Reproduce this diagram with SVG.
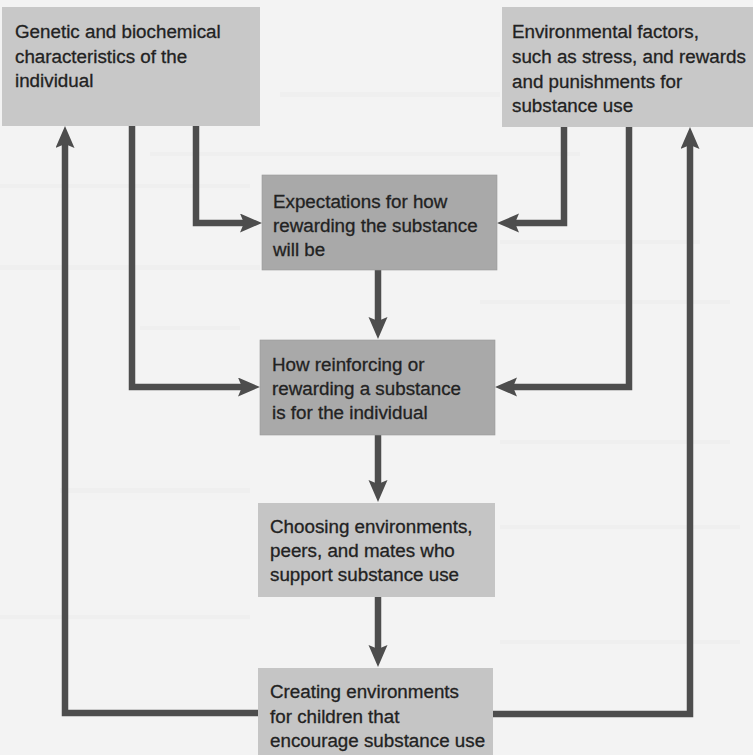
<svg xmlns="http://www.w3.org/2000/svg" width="753" height="755" viewBox="0 0 753 755">
  <style>
    .box-light { fill: #c8c8c8; }
    .box-dark { fill: #a9a9a9; stroke: #9a9a9a; stroke-width: 0.6; }
    .box-mid { fill: #c5c5c5; }
    .label { font-family: "Liberation Sans", Arial, sans-serif; font-size: 18.8px; fill: #222222; stroke: #222222; stroke-width: 0.3; }
    .wire { fill: none; stroke: #4d4d4d; stroke-width: 6.5; stroke-linejoin: miter; stroke-linecap: butt; }
    .streak { fill: #e9e9e9; opacity: 0.4; }
  </style>
  <defs>
    <marker id="head" markerUnits="userSpaceOnUse" markerWidth="24" markerHeight="20" refX="5" refY="9.5" orient="auto">
      <path d="M0,0 L22,9.5 L0,19 L4,9.5 Z" fill="#4d4d4d"/>
    </marker>
  </defs>

  <!-- page background with faint print-through streaks -->
  <rect x="0" y="0" width="753" height="755" fill="#f3f3f3"/>
  <g id="paper-streaks">
    <rect class="streak" x="280" y="92" width="220" height="5"/>
    <rect class="streak" x="150" y="152" width="430" height="4"/>
    <rect class="streak" x="0" y="184" width="250" height="4"/>
    <rect class="streak" x="500" y="240" width="200" height="4"/>
    <rect class="streak" x="0" y="265" width="260" height="5"/>
    <rect class="streak" x="480" y="300" width="250" height="4"/>
    <rect class="streak" x="140" y="326" width="100" height="4"/>
    <rect class="streak" x="500" y="440" width="230" height="4"/>
    <rect class="streak" x="60" y="488" width="190" height="5"/>
    <rect class="streak" x="500" y="525" width="240" height="4"/>
    <rect class="streak" x="0" y="615" width="250" height="4"/>
    <rect class="streak" x="500" y="640" width="240" height="4"/>
  </g>

  <!-- connectors -->
  <g id="connectors">
    <path class="wire" d="M196,126 V223 H245" marker-end="url(#head)"/>
    <path class="wire" d="M132,126 V387 H243" marker-end="url(#head)"/>
    <path class="wire" d="M564,127 V223 H514" marker-end="url(#head)"/>
    <path class="wire" d="M629,127 V387 H512" marker-end="url(#head)"/>
    <path class="wire" d="M378,270 V322" marker-end="url(#head)"/>
    <path class="wire" d="M378,435 V485" marker-end="url(#head)"/>
    <path class="wire" d="M378,597 V650" marker-end="url(#head)"/>
    <path class="wire" d="M258,713 H65 V143" marker-end="url(#head)"/>
    <path class="wire" d="M493,714 H690 V144" marker-end="url(#head)"/>
  </g>

  <g id="genetic">
    <rect class="box-light" x="2" y="7" width="258" height="119"/>
    <text class="label" x="15" y="38">Genetic and biochemical</text>
    <text class="label" x="15" y="63">characteristics of the</text>
    <text class="label" x="15" y="87">individual</text>
  </g>

  <g id="environmental">
    <rect class="box-light" x="502" y="7" width="251" height="120"/>
    <text class="label" x="512" y="38">Environmental factors,</text>
    <text class="label" x="512" y="63">such as stress, and rewards</text>
    <text class="label" x="512" y="88">and punishments for</text>
    <text class="label" x="512" y="112">substance use</text>
  </g>

  <g id="expectations">
    <rect class="box-dark" x="262" y="175" width="235" height="95"/>
    <text class="label" x="273" y="208">Expectations for how</text>
    <text class="label" x="273" y="232">rewarding the substance</text>
    <text class="label" x="273" y="256">will be</text>
  </g>

  <g id="reinforcing">
    <rect class="box-dark" x="260" y="340" width="235" height="95"/>
    <text class="label" x="272" y="371">How reinforcing or</text>
    <text class="label" x="272" y="395">rewarding a substance</text>
    <text class="label" x="272" y="419">is for the individual</text>
  </g>

  <g id="choosing">
    <rect class="box-mid" x="258" y="503" width="237" height="94"/>
    <text class="label" x="270" y="533">Choosing environments,</text>
    <text class="label" x="270" y="557">peers, and mates who</text>
    <text class="label" x="270" y="581">support substance use</text>
  </g>

  <g id="creating">
    <rect class="box-mid" x="258" y="668" width="235" height="87"/>
    <text class="label" x="270" y="698">Creating environments</text>
    <text class="label" x="270" y="723">for children that</text>
    <text class="label" x="270" y="747">encourage substance use</text>
  </g>
</svg>
